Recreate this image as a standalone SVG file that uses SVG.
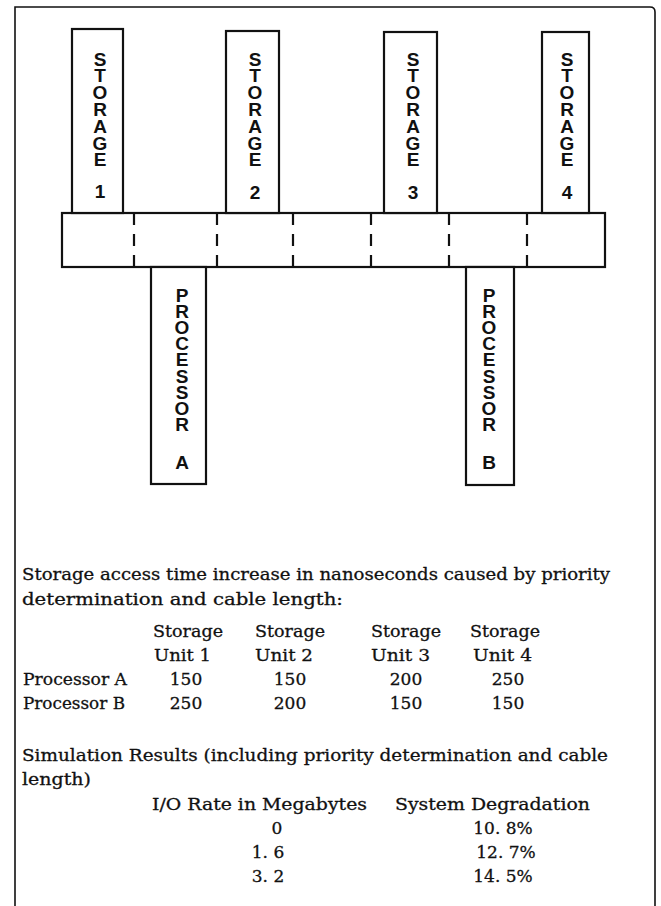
<svg xmlns="http://www.w3.org/2000/svg" width="661" height="906" viewBox="0 0 661 906">
<style>
.box{fill:#fff;stroke:#111;stroke-width:2.2}
.frame{fill:none;stroke:#111;stroke-width:1.6}
.div{stroke:#111;stroke-width:2.2;stroke-dasharray:12 9}
.v{font-family:"Liberation Sans",Arial,sans-serif;font-weight:bold;font-size:19px;fill:#111;writing-mode:vertical-rl;text-orientation:upright;letter-spacing:-4.2px}
.lbl{font-family:"Liberation Sans",Arial,sans-serif;font-weight:bold;font-size:19px;fill:#111;text-anchor:middle}
.t{font-family:"DejaVu Serif","Liberation Serif",serif;font-size:17px;fill:#111;stroke:#111;stroke-width:0.3}
.m{text-anchor:middle}
</style>
<rect width="661" height="906" fill="#fff"/>
<path class="frame" d="M15,906 V7 H650 Q655,7 655,12 V906"/>
<g id="bus">
<rect class="box" x="62" y="213" width="543" height="54"/>
</g>
<g id="connectors">
<line class="div" x1="134" y1="213" x2="134" y2="267"/>
<line class="div" x1="217" y1="213" x2="217" y2="267"/>
<line class="div" x1="293" y1="213" x2="293" y2="267"/>
<line class="div" x1="371" y1="213" x2="371" y2="267"/>
<line class="div" x1="449" y1="213" x2="449" y2="267"/>
<line class="div" x1="527" y1="213" x2="527" y2="267"/>
</g>
<g id="storage1">
<rect class="box" x="72" y="29" width="51" height="184"/>
<text class="v" x="100" y="48.5">STORAGE</text>
<text class="lbl" x="100" y="198">1</text>
</g>
<g id="storage2">
<rect class="box" x="226" y="31" width="53" height="182"/>
<text class="v" x="255" y="48.5">STORAGE</text>
<text class="lbl" x="255" y="199">2</text>
</g>
<g id="storage3">
<rect class="box" x="384" y="32" width="53" height="181"/>
<text class="v" x="413" y="48.5">STORAGE</text>
<text class="lbl" x="413" y="199">3</text>
</g>
<g id="storage4">
<rect class="box" x="542" y="32" width="47" height="181"/>
<text class="v" x="567" y="48.5">STORAGE</text>
<text class="lbl" x="567" y="199">4</text>
</g>
<g id="processorA">
<rect class="box" x="151" y="267" width="55" height="217"/>
<text class="v" x="182" y="284.5" style="letter-spacing:-4.8px">PROCESSOR</text>
<text class="lbl" x="182" y="469">A</text>
</g>
<g id="processorB">
<rect class="box" x="466" y="267" width="48" height="218"/>
<text class="v" x="489" y="284.5" style="letter-spacing:-4.8px">PROCESSOR</text>
<text class="lbl" x="489" y="469">B</text>
</g>
<g id="table1">
<text class="t" x="22" y="580" textLength="588" lengthAdjust="spacingAndGlyphs">Storage access time increase in nanoseconds caused by priority</text>
<text class="t" x="22" y="605" textLength="321" lengthAdjust="spacingAndGlyphs">determination and cable length:</text>
<text class="t" x="153" y="637" textLength="70" lengthAdjust="spacingAndGlyphs">Storage</text>
<text class="t" x="255" y="637" textLength="70" lengthAdjust="spacingAndGlyphs">Storage</text>
<text class="t" x="371" y="637" textLength="70" lengthAdjust="spacingAndGlyphs">Storage</text>
<text class="t" x="470" y="637" textLength="70" lengthAdjust="spacingAndGlyphs">Storage</text>
<text class="t" x="154" y="661" textLength="57" lengthAdjust="spacingAndGlyphs">Unit 1</text>
<text class="t" x="255" y="661" textLength="58" lengthAdjust="spacingAndGlyphs">Unit 2</text>
<text class="t" x="371" y="661" textLength="59" lengthAdjust="spacingAndGlyphs">Unit 3</text>
<text class="t" x="473" y="661" textLength="59" lengthAdjust="spacingAndGlyphs">Unit 4</text>
<text class="t" x="23" y="685" textLength="104" lengthAdjust="spacingAndGlyphs">Processor A</text>
<text class="t m" x="186" y="685">150</text>
<text class="t m" x="290" y="685">150</text>
<text class="t m" x="406" y="685">200</text>
<text class="t m" x="508" y="685">250</text>
<text class="t" x="23" y="709" textLength="102" lengthAdjust="spacingAndGlyphs">Processor B</text>
<text class="t m" x="186" y="709">250</text>
<text class="t m" x="290" y="709">200</text>
<text class="t m" x="406" y="709">150</text>
<text class="t m" x="508" y="709">150</text>
</g>
<g id="table2">
<text class="t" x="22" y="761" textLength="586" lengthAdjust="spacingAndGlyphs">Simulation Results (including priority determination and cable</text>
<text class="t" x="22" y="785" textLength="69" lengthAdjust="spacingAndGlyphs">length)</text>
<text class="t" x="152" y="810" textLength="215" lengthAdjust="spacingAndGlyphs">I/O Rate in Megabytes</text>
<text class="t" x="395" y="810" textLength="195" lengthAdjust="spacingAndGlyphs">System Degradation</text>
<text class="t m" x="277" y="834">0</text>
<text class="t m" x="268" y="858">1. 6</text>
<text class="t m" x="268" y="882">3. 2</text>
<text class="t m" x="503" y="834">10. 8%</text>
<text class="t m" x="506" y="858">12. 7%</text>
<text class="t m" x="503" y="882">14. 5%</text>
</g>
</svg>
